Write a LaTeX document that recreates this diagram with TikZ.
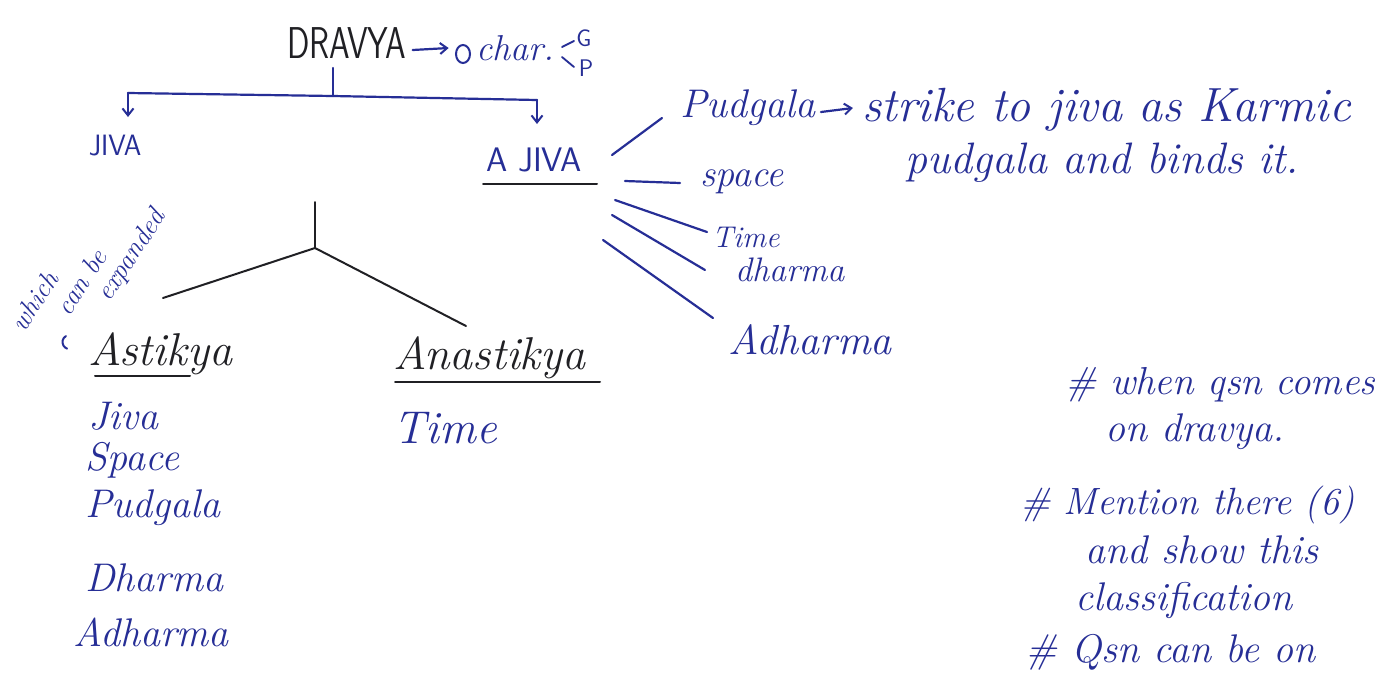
\documentclass[tikz,border=0pt]{standalone}
\usepackage{fontspec}
\usetikzlibrary{arrows.meta}
\definecolor{ink}{RGB}{38,46,150}
\definecolor{pen}{RGB}{32,32,36}
\begin{document}
\begin{tikzpicture}[x=1pt,y=-1pt,
  hand/.style={text=ink, font=\fontsize{40}{42}\selectfont\itshape, inner sep=0pt, anchor=west},
  handk/.style={hand, text=pen, font=\fontsize{46}{48}\selectfont\itshape},
  caps/.style={text=ink, font=\fontsize{22}{24}\selectfont\sffamily, inner sep=0pt},
  notes/.style={text=ink, font=\fontsize{27}{29}\selectfont\itshape, inner sep=0pt, rotate=57},
  bline/.style={draw=ink, line width=2.2pt, line cap=round},
  kline/.style={draw=pen, line width=2pt, line cap=round},
  tip/.style={-{Straight Barb[length=7pt,width=11pt,line width=2pt]}}
]
\useasboundingbox[fill=white] (0,0) rectangle (1377,686);

% top: DRAVYA
\node[caps, text=pen, font=\fontsize{33}{35}\selectfont\sffamily] (dravya) at (347,43) {\scalebox{1}[1.35]{DRAVYA}};
\node[hand, font=\fontsize{36}{38}\selectfont\itshape] (char) at (476,48) {char.};
\draw[bline, tip] (dravya.east) ++(6,7) coordinate (da) -- ++(36,-2) coordinate (db);
\draw[draw=ink, line width=2pt] (463,54) ellipse (7pt and 9pt);
\node[caps, font=\fontsize{24}{26}\selectfont\sffamily] (g) at (584,38) {G};
\node[caps, font=\fontsize{24}{26}\selectfont\sffamily] (p) at (586,68) {P};
\coordinate (gp) at (562,52);
\draw[bline, line width=1.8pt] (gp) ++(0,-5) -- ++(12,-6);
\draw[bline, line width=1.8pt] (gp) ++(0,5) -- ++(12,10);

% split to JIVA / AJIVA
\coordinate (dtop) at (333,68);
\coordinate (dmid) at (333,96);
\coordinate (hl) at (128,93);
\coordinate (hr) at (537,100);
\node[caps, font=\fontsize{28}{30}\selectfont\sffamily] (jiva) at (115,146) {\scalebox{1}[1.05]{JIVA}};
\node[caps, font=\fontsize{34}{36}\selectfont\sffamily] (ajiva) at (534,160) {A JIVA};
\draw[bline] (dtop) -- (dmid);
\draw[bline] (hl) -- (dmid) -- (hr);
\draw[bline, tip] (hl) -- ++(0,24);
\draw[bline, tip] (hr) -- ++(0,24);
\draw[kline] (483,184) -- (597,184);

% tree of Astikya / Anastikya
\coordinate (ttop) at (315,202);
\coordinate (tfork) at (315,248);
\coordinate (tl) at (163,298);
\coordinate (tr) at (466,326);
\draw[kline] (ttop) -- (tfork);
\draw[kline] (tl) -- (tfork) -- (tr);
\node[handk] (astikya) at (88,354) {Astikya};
\node[handk] (anastikya) at (393,358) {Anastikya};
\draw[kline] (95,376) -- (190,376);
\draw[kline] (395,382) -- (600,382);

% side note
\node[notes] (w1) at (34,301) {which};
\node[notes] (w2) at (81,282) {can be};
\node[notes] (w3) at (132,256) {expanded};
\draw[draw=ink, line width=2pt, line cap=round] (66,336) arc[start angle=120, end angle=250, radius=7pt];

% Astikya list
\node[hand] (l1) at (88,416) {Jiva};
\node[hand] (l2) at (85,460) {Space};
\node[hand] (l3) at (85,508) {Pudgala};
\node[hand] (l4) at (85,578) {Dharma};
\node[hand] (l5) at (73,632) {Adharma};
\node[hand, font=\fontsize{46}{48}\selectfont\itshape] (r1) at (393,428) {Time};

% AJIVA branches
\node[hand] (b1) at (680,108) {Pudgala};
\node[hand, font=\fontsize{38}{40}\selectfont\itshape] (b2) at (700,182) {space};
\node[hand, font=\fontsize{30}{32}\selectfont\itshape] (b3) at (712,237) {Time};
\node[hand, font=\fontsize{34}{36}\selectfont\itshape] (b4) at (735,270) {dharma};
\node[hand, font=\fontsize{42}{44}\selectfont\itshape] (b5) at (728,340) {Adharma};
\coordinate (a1) at (612,155);
\coordinate (a2) at (625,181);
\coordinate (a3) at (615,200);
\coordinate (a4) at (612,215);
\coordinate (a5) at (603,240);
\draw[bline] (a1) -- (662,118);
\draw[bline] (a2) -- (680,183);
\draw[bline] (a3) -- (707,232);
\draw[bline] (a4) -- (705,270);
\draw[bline] (a5) -- (713,318);
\draw[bline, tip] (b1.east) ++(5,4) -- ++(32,-4);
\node[hand, font=\fontsize{48}{50}\selectfont\itshape] (strike) at (862,110) {strike to jiva as Karmic};
\node[hand, font=\fontsize{44}{46}\selectfont\itshape] (binds) at (905,163) {pudgala and binds it.};

% right notes
\node[hand, font=\fontsize{39}{41}\selectfont\itshape] (n1) at (1065,385) {\# when qsn comes};
\node[hand, font=\fontsize{40}{42}\selectfont\itshape] (n2) at (1105,432) {on dravya.};
\node[hand, font=\fontsize{38}{40}\selectfont\itshape] (n3) at (1020,505) {\# Mention there (6)};
\node[hand, font=\fontsize{40}{42}\selectfont\itshape] (n4) at (1085,550) {and show this};
\node[hand, font=\fontsize{40}{42}\selectfont\itshape] (n5) at (1075,600) {classification};
\node[hand, font=\fontsize{40}{42}\selectfont\itshape] (n6) at (1025,652) {\# Qsn can be on};
\end{tikzpicture}
\end{document}
